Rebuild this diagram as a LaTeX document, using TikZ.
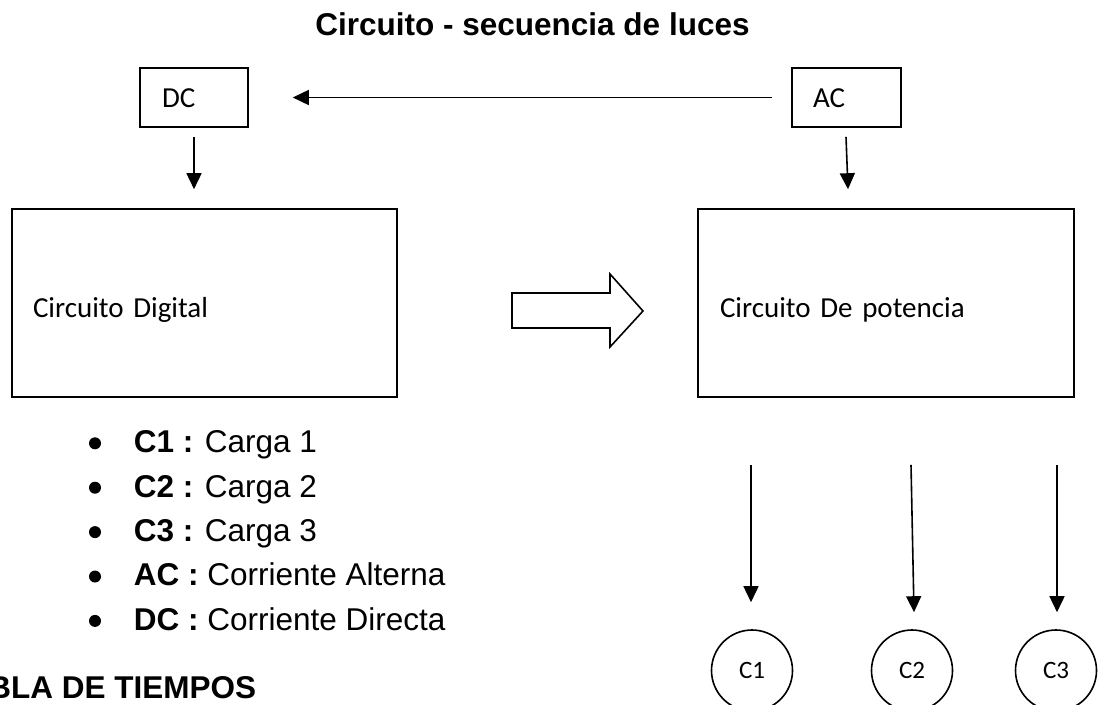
\documentclass[tikz,border=0pt]{standalone}
\usepackage{fontspec}
\setmainfont{Carlito}
\newfontfamily\arialfont{Liberation Sans}
\usetikzlibrary{arrows.meta,calc}

\begin{document}
\begin{tikzpicture}[x=1pt, y=-1pt, line width=1.6pt,
    arr/.style={-{Triangle[length=16pt,width=15pt]}},
    caja/.style={draw, rectangle, align=left, inner ysep=0pt, text depth=0pt, font=\fontsize{29}{33}\selectfont},
    carga/.style={draw, circle, minimum size=81pt, inner sep=0pt, font=\fontsize{25}{28}\selectfont}]

        \useasboundingbox (0,0) rectangle (1102,704);
        \clip (0,0) rectangle (1102,704);

        \node[font=\arialfont\bfseries\fontsize{31.5}{36}\selectfont, anchor=base] (titulo) at (532.5,35.5) {Circuito - secuencia de luces};

        \begin{scope}[every node/.style={caja}]
          \node[minimum height=59pt, text width=64pt, inner xsep=22pt, text height=19pt]   (dc)  at (194,97.5)   {DC};
          \node[minimum height=59pt, text width=67pt, inner xsep=21pt, text height=19pt]   (ac)  at (846.5,97.5) {AC};
          \node[minimum height=188pt, text width=343pt, inner xsep=21pt, text height=28pt] (dig) at (204.5,303)  {Circuito Digital};
          \node[minimum height=188pt, text width=332pt, inner xsep=22pt, text height=28pt] (pot) at (886,303)    {Circuito De potencia};
        \end{scope}

        \begin{scope}[every node/.style={carga}]
          \node (c1) at (752,670.5)  {C1};
          \node (c2) at (912,670.5)  {C2};
          \node (c3) at (1056,670.5) {C3};
        \end{scope}

        \begin{scope}[every path/.style={arr}]
          \draw[shorten <=19pt, shorten >=44pt] (ac) -- (dc);
          \draw[shorten <=9pt, shorten >=19pt] (dc) -- (dc |- dig.north);
          \draw ($(ac.south)+(-0.5,9)$) -- ($(ac.south |- pot.north)+(1.5,-19)$);
          \draw ($(c1 |- pot.south)+(-1,67)$) -- ($(c1.north)+(-1,-27)$);
          \draw ($(c2 |- pot.south)+(-1,67)$) -- ($(c2.north)+(2,-17)$);
          \draw ($(c3 |- pot.south)+(1,67)$)  -- ($(c3.north)+(1,-17)$);
        \end{scope}

        \draw (512,293) -- (610,293) -- (610,274) -- (643,311) -- (610,347) -- (610,328) -- (512,328) -- cycle;

        \begin{scope}[every node/.style={anchor=base west, inner sep=0pt, font=\arialfont\fontsize{31.5}{36}\selectfont}]
          \node (l1) at (133,452.7) {\textbf{C1 :} Carga 1};
          \node (l2) at (133,497.1) {\textbf{C2 :} Carga 2};
          \node (l3) at (133,541.5) {\textbf{C3 :} Carga 3};
          \node (l4) at (133,585.9) {\textbf{AC :} Corriente Alterna};
          \node (l5) at (133,630.3) {\textbf{DC :} Corriente Directa};
        \end{scope}
        \fill (95,443.3) circle (6pt) (95,487.7) circle (6pt) (95,532.1) circle (6pt)
              (95,576.5) circle (6pt) (95,620.9) circle (6pt);

        \node[anchor=base east, inner sep=0pt, font=\arialfont\bfseries\fontsize{31.5}{36}\selectfont] (tabla) at (257,698) {TABLA DE TIEMPOS};

      \end{tikzpicture}
\end{document}
